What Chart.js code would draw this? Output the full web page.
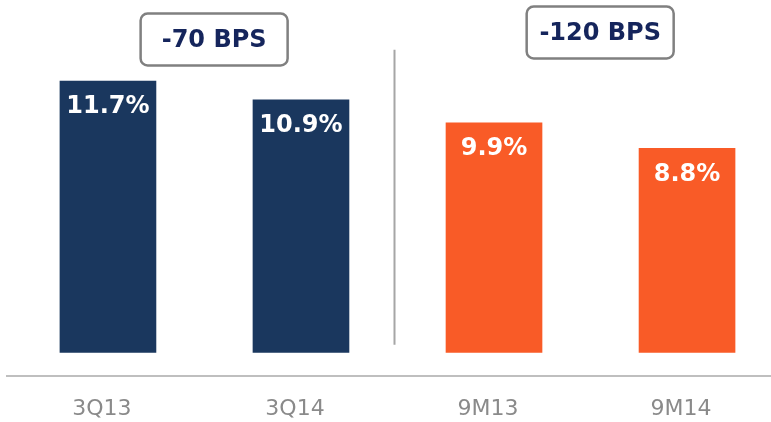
<!DOCTYPE html>
<html>
<head>
<meta charset="utf-8">
<script src="https://cdn.jsdelivr.net/npm/chart.js@4"></script>
<style>
  html, body { margin: 0; padding: 0; background: #fff; }
  #wrap { width: 771px; height: 422px; }
</style>
</head>
<body>
<div id="wrap"><canvas id="marginChart"></canvas></div>
<script>
const categories = ['3Q13', '3Q14', '9M13', '9M14'];
const marginValues = [11.7, 10.9, 9.9, 8.8];
const changeLabels = ['-70 BPS', '-120 BPS'];

const NAVY = '#1a375e';
const ORANGE = '#f95b27';
const barColors = [NAVY, NAVY, ORANGE, ORANGE];

Chart.defaults.font.family = "'DejaVu Sans', Verdana, sans-serif";

// value labels, divider and the bps boxes
const overlay = {
    id: 'overlay',
    afterDatasetsDraw(chart) {
        const ctx = chart.ctx;
        const xs = chart.scales.x, ys = chart.scales.y;
        const bars = chart.getDatasetMeta(0).data;

        ctx.save();
        ctx.fillStyle = '#fff';
        ctx.font = 'bold 24px "DejaVu Sans", Verdana, sans-serif';
        ctx.textAlign = 'center';
        ctx.textBaseline = 'middle';
        bars.forEach((bar, i) => {
            ctx.fillText(marginValues[i].toFixed(1) + '%', bar.x, bar.y + 26);
        });

        // divider between quarter and nine-month groups
        const dx = Math.round(xs.getPixelForValue(1.48)) + 0.5;
        ctx.strokeStyle = '#a6a6a6';
        ctx.lineWidth = 2;
        ctx.beginPath();
        ctx.moveTo(dx, ys.getPixelForValue(13.05));
        ctx.lineTo(dx, ys.getPixelForValue(0.33));
        ctx.stroke();

        // change boxes
        const boxes = [
            { x: xs.getPixelForValue(0.55), y: 39.5 },
            { x: xs.getPixelForValue(2.55), y: 32.5 }
        ];
        boxes.forEach((b, i) => {
            const w = 147, h = 52;
            ctx.beginPath();
            ctx.roundRect(b.x - w / 2, b.y - h / 2, w, h, 7);
            ctx.fillStyle = '#fff';
            ctx.fill();
            ctx.strokeStyle = '#808080';
            ctx.lineWidth = 2.5;
            ctx.stroke();
            ctx.fillStyle = '#15255c';
            ctx.fillText(changeLabels[i], b.x, b.y + 1);
        });
        ctx.restore();
    }
};

new Chart(document.getElementById('marginChart').getContext('2d'), {
    type: 'bar',
    data: {
        datasets: [{
            data: marginValues.map((v, i) => ({ x: i, y: v })),
            backgroundColor: barColors,
            barThickness: 96,
            borderWidth: 0
        }]
    },
    options: {
        responsive: true,
        maintainAspectRatio: false,
        animation: false,
        layout: { padding: { left: 7, right: 0, top: 0, bottom: 0 } },
        plugins: {
            legend: { display: false },
            tooltip: { enabled: false }
        },
        scales: {
            x: {
                type: 'linear',
                offset: false,
                min: -0.523,
                max: 3.435,
                afterBuildTicks: axis => {
                    axis.ticks = categories.map((c, i) => ({ value: i }));
                },
                afterFit: axis => { axis.height = 46; },
                grid: { display: false, drawTicks: false },
                border: { display: true, color: '#bfbfbf', width: 2 },
                ticks: {
                    callback: value => categories[value],
                    color: '#8a8a8a',
                    font: { size: 22 },
                    padding: 20,
                    labelOffset: -6,
                    maxRotation: 0,
                    autoSkip: false
                }
            },
            y: {
                display: false,
                min: -1.013,
                max: 15.2
            }
        }
    },
    plugins: [overlay]
});
</script>
</body>
</html>
